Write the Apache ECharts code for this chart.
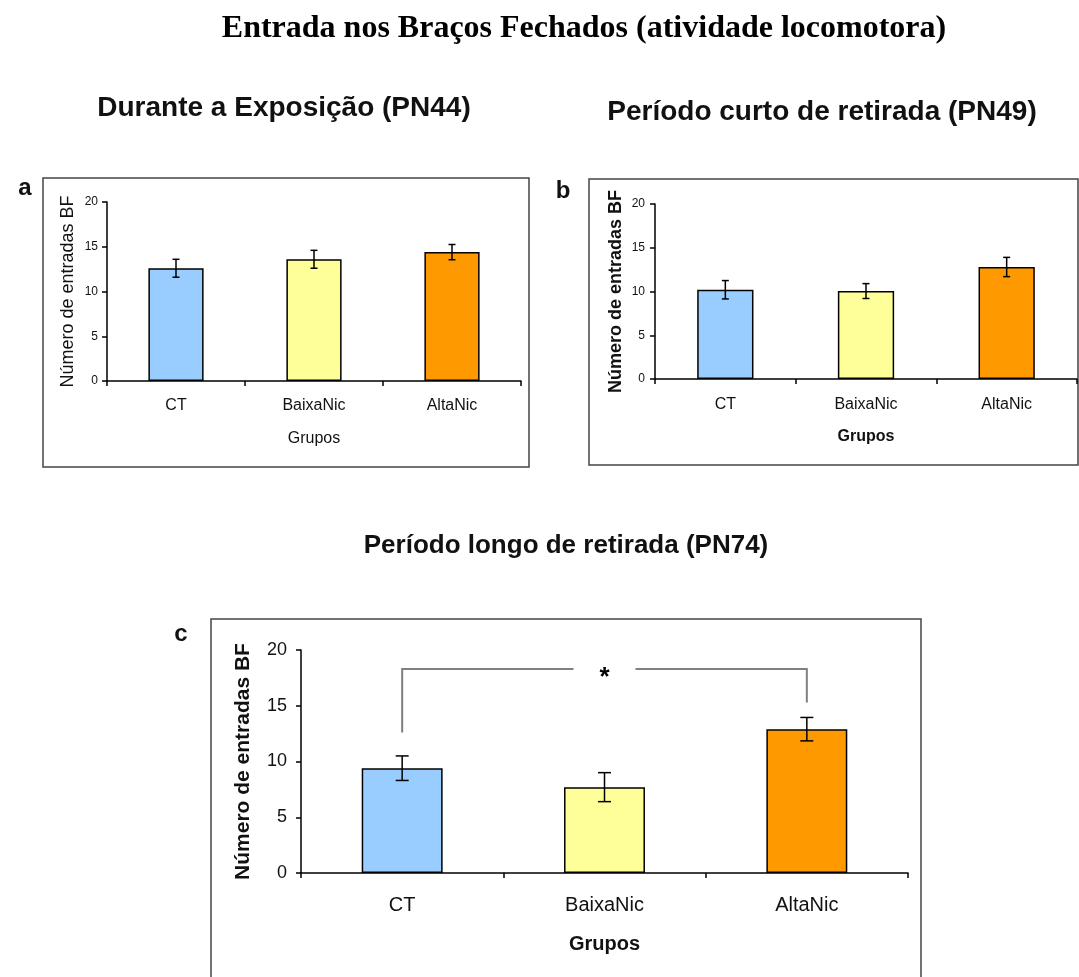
<!DOCTYPE html>
<html><head><meta charset="utf-8">
<script src="https://cdn.jsdelivr.net/npm/echarts@6/dist/echarts.min.js"></script>
<style>html,body{margin:0;padding:0;background:#fff}#c{width:1079px;height:977px}</style>
</head><body><div id="c"></div>
<script>
// ---- data ----
const categories = ['CT', 'BaixaNic', 'AltaNic'];
const yMin = 0, yMax = 20, yStep = 5;
const meansA = [12.6, 13.6, 14.4];
const errsA  = [1.0, 1.0, 0.85];
const meansB = [10.2, 10.05, 12.8];
const errsB  = [1.05, 0.85, 1.1];
const meansC = [9.4, 7.7, 12.9];
const errsC  = [1.1, 1.3, 1.05];
const barColors = ['#99CCFF', '#FFFF99', '#FF9900'];
// significance bracket in panel c: categories joined, and levels [left end, top, right end]
const bracketCats = [0, 2];
const bracketLevels = [12.6, 18.3, 15.3];
const bracketMark = '*';

const mainTitle = 'Entrada nos Braços Fechados (atividade locomotora)';
const panelTitles = ['Durante a Exposição (PN44)', 'Período curto de retirada (PN49)', 'Período longo de retirada (PN74)'];
const panelLetters = ['a', 'b', 'c'];
const yName = 'Número de entradas BF';
const xName = 'Grupos';

// ---- layout / style ----
const SANS = '"Liberation Sans", Arial, sans-serif';
const panels = [
  {grid:{left:107, top:202, width:414, height:179}, tick:12, lab:16, labM:17, name:18, nameBold:'normal', nameGap:30, xName:16, xNameBold:'normal', xNameGap:50, yLabM:9, cap:3.5, means:meansA, errs:errsA},
  {grid:{left:655, top:204, width:422, height:175}, tick:12, lab:16, labM:18, name:18, nameBold:'bold', nameGap:30, xName:16, xNameBold:'bold', xNameGap:50, yLabM:10, cap:3.5, means:meansB, errs:errsB},
  {grid:{left:301, top:650, width:607, height:223}, tick:18, lab:20, labM:22, name:21, nameBold:'bold', nameGap:47, xName:20, xNameBold:'bold', xNameGap:61, yLabM:14, cap:6.5, means:meansC, errs:errsC}
];

const chart = echarts.init(document.getElementById('c'), null, {renderer:'canvas'});

const grids = [], xAxes = [], yAxes = [], series = [];
panels.forEach((p, i) => {
  grids.push(Object.assign({containLabel:false}, p.grid));
  xAxes.push({
    type:'category', gridIndex:i, data:categories,
    axisLine:{lineStyle:{color:'#000', width:1.5}},
    axisTick:{show:true, length:5, lineStyle:{color:'#000', width:1.5}},
    axisLabel:{fontFamily:SANS, fontSize:p.lab, color:'#111', margin:p.labM},
    name:xName, nameLocation:'middle', nameGap:p.xNameGap,
    nameTextStyle:{fontFamily:SANS, fontSize:p.xName, fontWeight:p.xNameBold, color:'#111'}
  });
  yAxes.push({
    type:'value', gridIndex:i, min:yMin, max:yMax, interval:yStep,
    axisLine:{show:true, lineStyle:{color:'#000', width:1.5}},
    axisTick:{show:true, length:5, lineStyle:{color:'#000', width:1.5}},
    splitLine:{show:false},
    axisLabel:{fontFamily:SANS, fontSize:p.tick, color:'#111', margin:p.yLabM},
    name:yName, nameLocation:'middle', nameGap:p.nameGap, nameRotate:90,
    nameTextStyle:{fontFamily:SANS, fontSize:p.name, fontWeight:p.nameBold, color:'#111'}
  });
  series.push({
    type:'bar', xAxisIndex:i, yAxisIndex:i, barWidth:'40%', silent:true,
    data:p.means.map((v, k) => ({value:v, itemStyle:{color:barColors[k]}})),
    itemStyle:{borderColor:'#000', borderWidth:1.5}
  });
  const cap = p.cap;
  series.push({
    type:'custom', xAxisIndex:i, yAxisIndex:i, silent:true, z:5,
    data:p.means.map((v, k) => [k, v - p.errs[k], v + p.errs[k]]),
    encode:{x:0, y:[1, 2]},
    renderItem:function(params, api){
      const x = api.value(0);
      const hi = api.coord([x, api.value(2)]);
      const lo = api.coord([x, api.value(1)]);
      const st = {stroke:'#000', lineWidth:1.5, fill:null};
      return {type:'group', children:[
        {type:'line', shape:{x1:hi[0], y1:hi[1], x2:lo[0], y2:lo[1]}, style:st},
        {type:'line', shape:{x1:hi[0]-cap, y1:hi[1], x2:hi[0]+cap, y2:hi[1]}, style:st},
        {type:'line', shape:{x1:lo[0]-cap, y1:lo[1], x2:lo[0]+cap, y2:lo[1]}, style:st}
      ]};
    }
  });
});

// significance bracket in panel c
series.push({
  type:'custom', xAxisIndex:2, yAxisIndex:2, silent:true, z:6,
  data:[[bracketCats[0], bracketLevels[0]]],
  renderItem:function(params, api){
    const pL0 = api.coord([bracketCats[0], bracketLevels[0]]);
    const pL1 = api.coord([bracketCats[0], bracketLevels[1]]);
    const pR1 = api.coord([bracketCats[1], bracketLevels[1]]);
    const pR0 = api.coord([bracketCats[1], bracketLevels[2]]);
    const mid = api.coord([(bracketCats[0] + bracketCats[1]) / 2, bracketLevels[1]]);
    const gap = 31;
    const st = {stroke:'#808080', lineWidth:2, fill:null};
    return {type:'group', children:[
      {type:'polyline', shape:{points:[pL0, pL1, [mid[0]-gap, mid[1]]]}, style:st},
      {type:'polyline', shape:{points:[[mid[0]+gap, mid[1]], pR1, pR0]}, style:st},
      {type:'text', style:{text:bracketMark, x:mid[0], y:mid[1]+9, align:'center', verticalAlign:'middle',
        font:'bold 26px ' + SANS, fill:'#000'}}
    ]};
  }
});

const graphic = [
  {type:'rect', shape:{x:43, y:178, width:486, height:289}, style:{fill:null, stroke:'#444', lineWidth:1.5}, silent:true},
  {type:'rect', shape:{x:589, y:179, width:489, height:286}, style:{fill:null, stroke:'#444', lineWidth:1.5}, silent:true},
  {type:'rect', shape:{x:211, y:619, width:710, height:380}, style:{fill:null, stroke:'#444', lineWidth:1.5}, silent:true},
  {type:'text', x:584, y:29, style:{text:mainTitle, align:'center', verticalAlign:'middle', font:'bold 32px "Liberation Serif", "Times New Roman", serif', fill:'#000'}},
  {type:'text', x:284, y:108, style:{text:panelTitles[0], align:'center', verticalAlign:'middle', font:'bold 28px ' + SANS, fill:'#111'}},
  {type:'text', x:822, y:112, style:{text:panelTitles[1], align:'center', verticalAlign:'middle', font:'bold 28px ' + SANS, fill:'#111'}},
  {type:'text', x:566, y:546, style:{text:panelTitles[2], align:'center', verticalAlign:'middle', font:'bold 26px ' + SANS, fill:'#111'}},
  {type:'text', x:25, y:188, style:{text:panelLetters[0], align:'center', verticalAlign:'middle', font:'bold 24px ' + SANS, fill:'#111'}},
  {type:'text', x:563, y:191, style:{text:panelLetters[1], align:'center', verticalAlign:'middle', font:'bold 24px ' + SANS, fill:'#111'}},
  {type:'text', x:181, y:634, style:{text:panelLetters[2], align:'center', verticalAlign:'middle', font:'bold 24px ' + SANS, fill:'#111'}}
];

chart.setOption({
  animation:false,
  backgroundColor:'#fff',
  grid:grids, xAxis:xAxes, yAxis:yAxes, series:series, graphic:graphic
});
</script></body></html>
